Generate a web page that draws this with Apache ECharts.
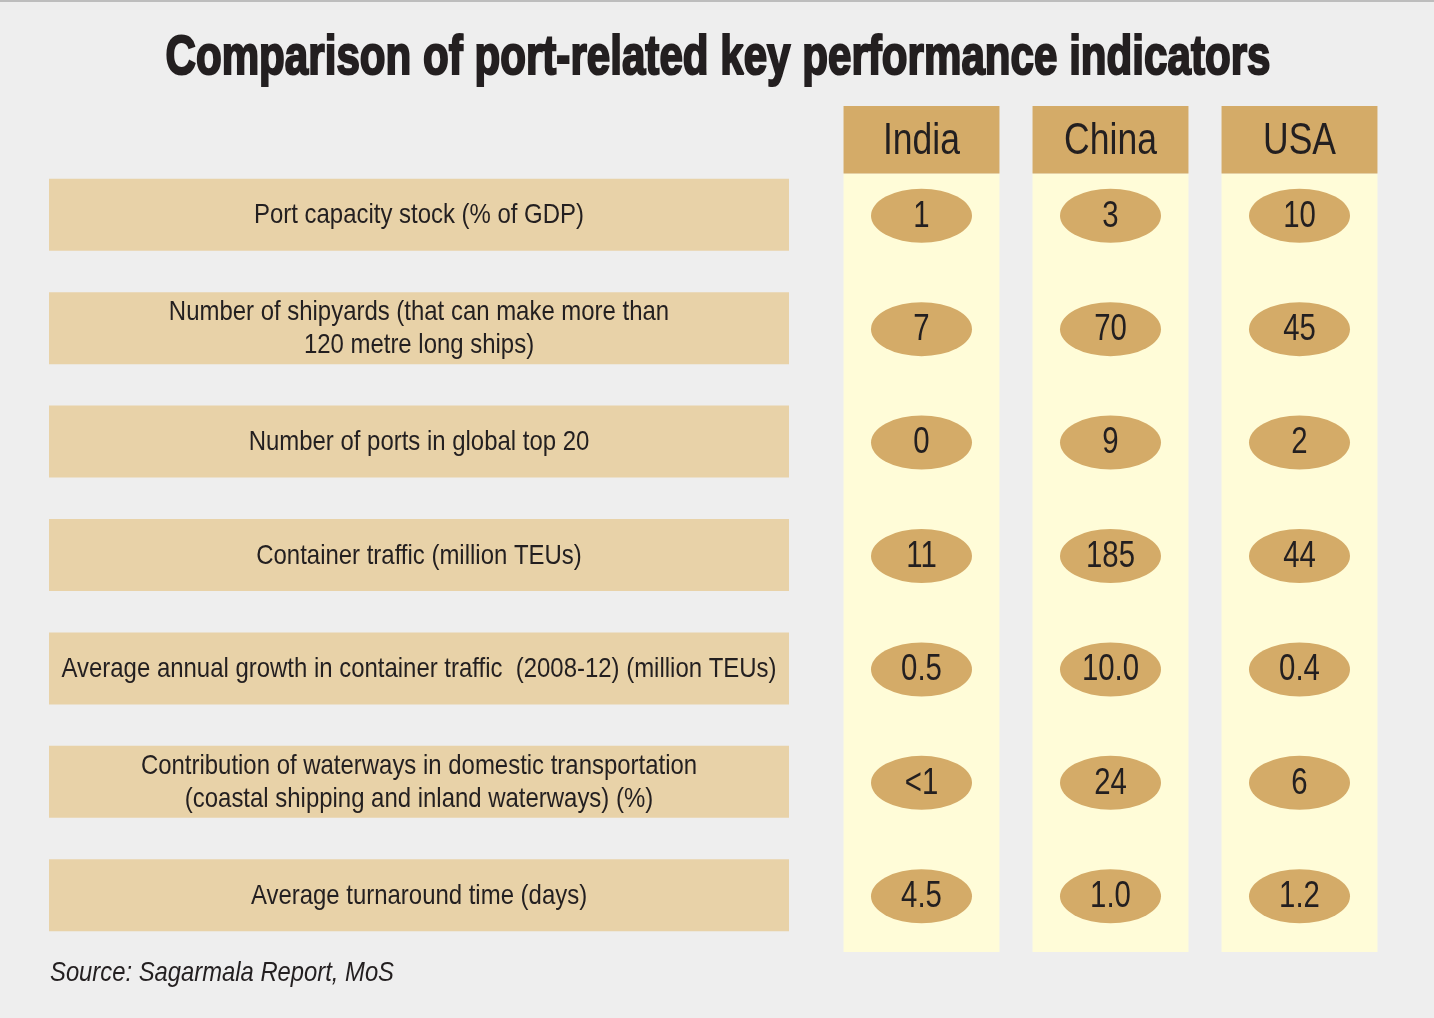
<!DOCTYPE html>
<html>
<head>
<meta charset="utf-8">
<title>Comparison of port-related key performance indicators</title>
<script src="https://cdn.jsdelivr.net/npm/echarts@6/dist/echarts.min.js"></script>
<style>
    html, body { margin: 0; padding: 0; background: #eeeeee; }
    #chart { width: 1434px; height: 1018px; }
</style>
</head>
<body>
<div id="chart"></div>
<script>
// indicators (rows) and countries (columns)
var indicators = [
    'Port capacity stock (% of GDP)',
    'Number of shipyards (that can make more than\n120 metre long ships)',
    'Number of ports in global top 20',
    'Container traffic (million TEUs)',
    'Average annual growth in container traffic  (2008-12) (million TEUs)',
    'Contribution of waterways in domestic transportation\n(coastal shipping and inland waterways) (%)',
    'Average turnaround time (days)'
];
var countries = ['India', 'China', 'USA'];

// values as printed in the ovals
var india = ['1', '7', '0', '11', '0.5', '<1', '4.5'];
var china = ['3', '70', '9', '185', '10.0', '24', '1.0'];
var usa = ['10', '45', '2', '44', '0.4', '6', '1.2'];

var titleText = 'Comparison of port-related key performance indicators';
var sourceText = 'Source: Sagarmala Report, MoS';

var family = '"Liberation Sans", Arial, sans-serif';
var ink = '#231f20';

// no narrow font installed: squeeze the regular one horizontally
var ctx = document.createElement('canvas').getContext('2d');
function squeeze(text, font, target) {
    ctx.font = font;
    return target / ctx.measureText(text).width;
}
var titleFont = 'bold 56px ' + family;
var labelFont = '28px ' + family;
var headFont = '45px ' + family;
var valueFont = '36px ' + family;
var sourceFont = 'italic 28px ' + family;
var titleScale = squeeze(titleText, titleFont, 1105);
var labelScale = squeeze(indicators[4], labelFont, 715);
var headScale = squeeze('India', headFont, 77);
var valueScale = squeeze('185', valueFont, 49);
var sourceScale = squeeze(sourceText, sourceFont, 344);

var valueCols = [india, china, usa];
var ovalData = [];
var ovalText = [];
for (var c = 0; c < countries.length; c++) {
    for (var r = 0; r < indicators.length; r++) {
        ovalData.push([countries[c], indicators[r]]);
        ovalText.push(valueCols[c][r]);
    }
}

var myChart = echarts.init(document.getElementById('chart'));
var option = {
    backgroundColor: '#eeeeee',
    animation: false,
    graphic: [{
        type: 'rect',
        shape: { x: 0, y: 0, width: 1434, height: 2 },
        style: { fill: '#bdbdbd' }
    }, {
        type: 'text',
        x: 718,
        y: 59,
        scaleX: titleScale,
        style: {
            text: titleText, x: 0, y: 0, align: 'center', verticalAlign: 'middle',
            font: titleFont, fill: ink, stroke: ink, lineWidth: 2.2
        }
    }, {
        type: 'text',
        x: 50,
        y: 973,
        scaleX: sourceScale,
        style: {
            text: sourceText, x: 0, y: 0, align: 'left', verticalAlign: 'middle',
            font: sourceFont, fill: ink
        }
    }],
    grid: [
        { left: 49, width: 740, top: 158, height: 794 },
        { left: 827, width: 567, top: 158, height: 794 }
    ],
    xAxis: [
        { gridIndex: 0, type: 'value', min: 0, max: 1, show: false },
        { gridIndex: 1, type: 'category', data: countries, show: false }
    ],
    yAxis: [
        { gridIndex: 0, type: 'category', data: indicators, inverse: true, show: false },
        { gridIndex: 1, type: 'category', data: indicators, inverse: true, show: false }
    ],
    series: [{
        // indicator boxes with their names
        type: 'custom',
        xAxisIndex: 0,
        yAxisIndex: 0,
        data: indicators.map(function (name) { return [1, name]; }),
        encode: { x: 0, y: 1 },
        renderItem: function (params, api) {
            var start = api.coord([0, api.value(1)]);
            var end = api.coord([api.value(0), api.value(1)]);
            var h = api.size([0, 1])[1] * 0.635;
            return {
                type: 'group',
                children: [{
                    type: 'rect',
                    shape: { x: start[0], y: start[1] - h / 2, width: end[0] - start[0], height: h },
                    style: { fill: '#e8d2a8' }
                }, {
                    type: 'text',
                    x: (start[0] + end[0]) / 2,
                    y: start[1] + 1,
                    scaleX: labelScale,
                    style: {
                        text: indicators[params.dataIndex], x: 0, y: 0,
                        align: 'center', verticalAlign: 'middle',
                        font: labelFont, lineHeight: 33, fill: ink
                    }
                }]
            };
        },
        silent: true
    }, {
        // country columns with header
        type: 'custom',
        xAxisIndex: 1,
        yAxisIndex: 1,
        data: countries.map(function (name) { return [name, indicators[0]]; }),
        encode: { x: 0, y: 1 },
        renderItem: function (params, api) {
            var cs = params.coordSys;
            var center = api.coord([api.value(0), 0]);
            var w = api.size([1, 0])[0] * 0.825;
            var x = center[0] - w / 2;
            var headTop = cs.y - 52;
            var headH = 67.5;
            return {
                type: 'group',
                children: [{
                    type: 'rect',
                    shape: { x: x, y: headTop + headH, width: w, height: cs.y + cs.height - headTop - headH },
                    style: { fill: '#fffcd8' }
                }, {
                    type: 'rect',
                    shape: { x: x, y: headTop, width: w, height: headH },
                    style: { fill: '#d4ab68' }
                }, {
                    type: 'text',
                    x: center[0],
                    y: headTop + headH / 2 + 2,
                    scaleX: headScale,
                    style: {
                        text: countries[params.dataIndex], x: 0, y: 0,
                        align: 'center', verticalAlign: 'middle',
                        font: headFont, fill: ink
                    }
                }]
            };
        },
        silent: true,
        z: 1
    }, {
        // value ovals
        type: 'custom',
        xAxisIndex: 1,
        yAxisIndex: 1,
        data: ovalData,
        encode: { x: 0, y: 1 },
        renderItem: function (params, api) {
            var p = api.coord([api.value(0), api.value(1)]);
            return {
                type: 'group',
                children: [{
                    type: 'circle',
                    x: p[0],
                    y: p[1] + 1,
                    scaleY: 0.535,
                    shape: { cx: 0, cy: 0, r: 50.5 },
                    style: { fill: '#d4ab68' }
                }, {
                    type: 'text',
                    x: p[0],
                    y: p[1] + 2,
                    scaleX: valueScale,
                    style: {
                        text: ovalText[params.dataIndex], x: 0, y: 0,
                        align: 'center', verticalAlign: 'middle',
                        font: valueFont, fill: ink
                    }
                }]
            };
        },
        silent: true,
        z: 3
    }]
};
myChart.setOption(option);
</script>
</body>
</html>
